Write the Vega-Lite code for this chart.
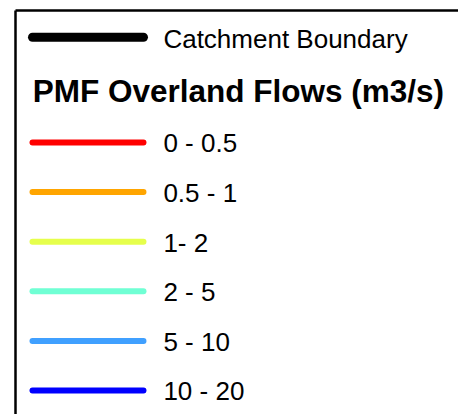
{
  "$schema": "https://vega.github.io/schema/vega-lite/v6.json",
  "autosize": {"type": "none"},
  "padding": {"left": 15, "top": 10, "right": 0, "bottom": 0},
  "width": 443,
  "height": 404,
  "background": "white",
  "config": {
    "view": {"stroke": null},
    "axis": {"domainColor": "#000000", "domainWidth": 2.5, "ticks": false, "labels": false, "grid": false, "title": null},
    "text": {"font": "Liberation Sans", "color": "#000000"}
  },
  "data": {"values": [
    {"item": "Catchment Boundary", "order": 0, "group": "boundary", "color": "#000000"},
    {"item": "PMF Overland Flows (m3/s)", "order": 1, "group": "title", "color": "#000000"},
    {"item": "0 - 0.5", "order": 2, "group": "flow", "color": "#FF0000"},
    {"item": "0.5 - 1", "order": 3, "group": "flow", "color": "#FFA500"},
    {"item": "1- 2", "order": 4, "group": "flow", "color": "#E6FF4C"},
    {"item": "2 - 5", "order": 5, "group": "flow", "color": "#70FFD4"},
    {"item": "5 - 10", "order": 6, "group": "flow", "color": "#40A0FF"},
    {"item": "10 - 20", "order": 7, "group": "flow", "color": "#0000FF"}
  ]},
  "layer": [
    {
      "transform": [{"filter": "datum.group === 'boundary'"}],
      "mark": {"type": "rule", "strokeWidth": 9, "strokeCap": "round", "yOffset": -6},
      "encoding": {
        "x": {"datum": 3.95, "type": "quantitative", "scale": {"domain": [0, 100], "nice": false, "zero": false}, "axis": {"orient": "top"}},
        "x2": {"datum": 29.0},
        "y": {"field": "order", "type": "quantitative", "scale": {"domain": [-0.671, 7.474], "nice": false, "zero": false, "reverse": true}, "axis": {"orient": "left"}},
        "color": {"field": "color", "type": "nominal", "scale": null}
      }
    },
    {
      "transform": [{"filter": "datum.group === 'boundary'"}],
      "mark": {"type": "text", "align": "left", "baseline": "alphabetic", "fontSize": 26, "dy": 10.5, "yOffset": -6},
      "encoding": {
        "x": {"datum": 33.5, "type": "quantitative"},
        "y": {"field": "order", "type": "quantitative"},
        "text": {"field": "item"}
      }
    },
    {
      "transform": [{"filter": "datum.group === 'title'"}],
      "mark": {"type": "text", "align": "left", "baseline": "alphabetic", "fontSize": 31.5, "fontWeight": "bold", "dy": 9.5},
      "encoding": {
        "x": {"datum": 4.0, "type": "quantitative"},
        "y": {"field": "order", "type": "quantitative"},
        "text": {"field": "item"}
      }
    },
    {
      "transform": [{"filter": "datum.group === 'flow'"}],
      "mark": {"type": "rule", "strokeWidth": 6, "strokeCap": "round"},
      "encoding": {
        "x": {"datum": 3.95, "type": "quantitative"},
        "x2": {"datum": 29.0},
        "y": {"field": "order", "type": "quantitative"},
        "color": {"field": "color", "type": "nominal", "scale": null}
      }
    },
    {
      "transform": [{"filter": "datum.group === 'flow'"}],
      "mark": {"type": "text", "align": "left", "baseline": "alphabetic", "fontSize": 26, "dy": 10},
      "encoding": {
        "x": {"datum": 33.5, "type": "quantitative"},
        "y": {"field": "order", "type": "quantitative"},
        "text": {"field": "item"}
      }
    }
  ]
}
